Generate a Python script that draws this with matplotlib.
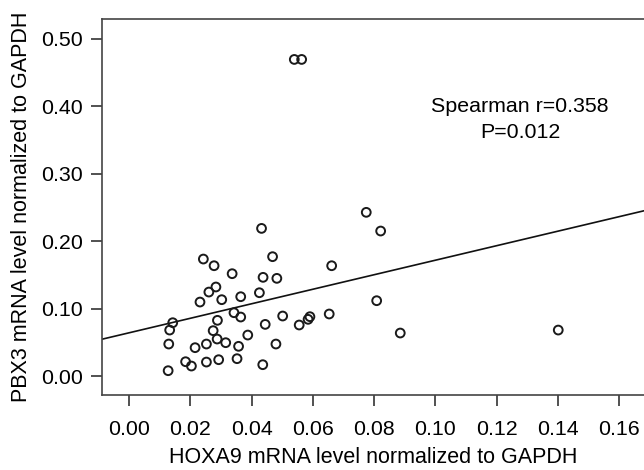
import matplotlib
matplotlib.use("Agg")
import matplotlib.pyplot as plt
import numpy as np

plt.rcParams['font.family'] = ['Liberation Sans', 'DejaVu Sans']

# Data
hoxa9 = [0.0432, 0.0468, 0.0242, 0.0277, 0.0336, 0.0437, 0.0482, 0.0283, 0.0260,
         0.0425, 0.0364, 0.0302, 0.0231, 0.0342, 0.0501, 0.0364, 0.0142, 0.0288,
         0.0132, 0.0444, 0.0274, 0.0387, 0.0287, 0.0129, 0.0252, 0.0315, 0.0479,
         0.0215, 0.0357, 0.0184, 0.0203, 0.0252, 0.0292, 0.0352, 0.0436, 0.0127,
         0.0774, 0.0821, 0.0661, 0.0808, 0.0555, 0.0584, 0.0590, 0.0653, 0.0885,
         0.1401, 0.0539, 0.0563]
pbx3 = [0.2187, 0.1768, 0.1733, 0.1634, 0.1516, 0.1462, 0.1447, 0.1319, 0.1244,
        0.1234, 0.1175, 0.1131, 0.1096, 0.0938, 0.0889, 0.0874, 0.0790, 0.0825,
        0.0681, 0.0765, 0.0672, 0.0607, 0.0548, 0.0474, 0.0474, 0.0494, 0.0474,
        0.0420, 0.0440, 0.0212, 0.0148, 0.0207, 0.0242, 0.0257, 0.0168, 0.0079,
        0.2425, 0.2148, 0.1634, 0.1116, 0.0756, 0.0840, 0.0879, 0.0919, 0.0637,
        0.0681, 0.4690, 0.4690]

fit_intercept = 0.0641
fit_slope = 1.075

x_ticks = [0.00, 0.02, 0.04, 0.06, 0.08, 0.10, 0.12, 0.14, 0.16]
y_ticks = [0.00, 0.10, 0.20, 0.30, 0.40, 0.50]

stat_line1 = "Spearman r=0.358"
stat_line2 = "P=0.012"
xlabel = "HOXA9 mRNA level normalized to GAPDH"
ylabel = "PBX3 mRNA level normalized to GAPDH"

fig = plt.figure(figsize=(6.44, 4.70), dpi=100)
ax = fig.add_axes([102/644, 75/470, 1 - 102/644, (395 - 19)/470])

xlim = (-0.0089, 0.1681)
ylim = (-0.0281, 0.5289)
ax.set_xlim(*xlim)
ax.set_ylim(*ylim)

ax.scatter(hoxa9, pbx3, s=40, facecolors='none', edgecolors='#1a1a1a',
           linewidths=1.4, zorder=3)

xx = np.array(xlim)
ax.plot(xx, fit_intercept + fit_slope * xx, color='#111111', lw=1.2, zorder=2)

ax.text(0.1276, 0.3916, stat_line1, ha='center', va='baseline', fontsize=15.4)
ax.text(0.1276, 0.3526, stat_line2, ha='center', va='baseline', fontsize=15.4)

ax.set_xticks(x_ticks)
ax.set_xticklabels([f"{v:.2f}" for v in x_ticks])
ax.set_yticks(y_ticks)
ax.set_yticklabels([f"{v:.2f}" for v in y_ticks])
ax.tick_params(direction='out', length=8, width=1.2, color='#333333',
               labelsize=15.4)
ax.tick_params(axis='x', pad=10)
ax.tick_params(axis='y', pad=6)

for side in ['left', 'bottom', 'top']:
    ax.spines[side].set_color('#444444')
    ax.spines[side].set_linewidth(1.2)
ax.spines['right'].set_visible(False)

ax.set_xlabel(xlabel, fontsize=15.5, labelpad=6)
ax.set_ylabel(ylabel, fontsize=15.5, labelpad=6)

fig.savefig("out.png", dpi=100)
